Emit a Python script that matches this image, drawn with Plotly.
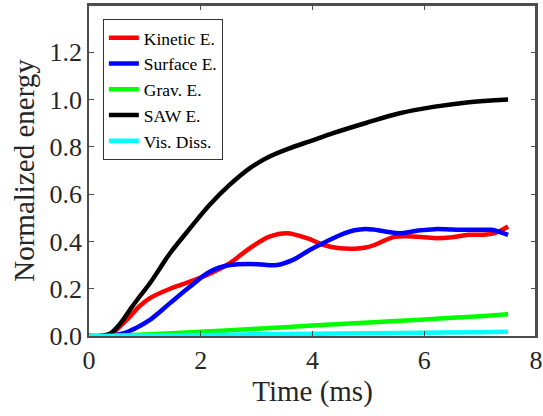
import plotly.graph_objects as go

# ---- data ----
t_saw = [0, 0.2, 0.38, 0.55, 0.73, 0.9, 1.09, 1.27, 1.45, 1.81, 2.16, 2.52, 2.88, 3.24, 3.6, 3.95, 4.37, 4.97, 5.56, 6.16, 6.76, 7.5]
v_saw = [0, 0.0, 0.011, 0.05, 0.11, 0.165, 0.223, 0.287, 0.35, 0.456, 0.555, 0.64, 0.71, 0.76, 0.795, 0.823, 0.858, 0.902, 0.942, 0.969, 0.988, 1.0]

t_kin = [0, 0.2, 0.38, 0.55, 0.73, 0.9, 1.09, 1.45, 1.81, 2.16, 2.52, 2.88, 3.24, 3.54, 3.9, 4.19, 4.45, 4.76, 4.95, 5.12, 5.3, 5.47, 5.7, 5.89, 6.19, 6.5, 6.79, 7.0, 7.26, 7.5]
v_kin = [0, 0, 0.004, 0.04, 0.082, 0.125, 0.16, 0.20, 0.23, 0.263, 0.308, 0.372, 0.421, 0.435, 0.414, 0.386, 0.372, 0.369, 0.374, 0.386, 0.405, 0.42, 0.422, 0.42, 0.414, 0.418, 0.428, 0.428, 0.435, 0.463]

t_surf = [0, 0.35, 0.61, 0.85, 1.09, 1.45, 1.81, 2.16, 2.52, 2.88, 3.1, 3.36, 3.65, 3.95, 4.25, 4.58, 4.75, 4.94, 5.1, 5.3, 5.59, 5.89, 6.19, 6.5, 6.79, 7.0, 7.2, 7.35, 7.5]
v_surf = [0, 0, 0.011, 0.035, 0.068, 0.139, 0.209, 0.272, 0.30, 0.305, 0.302, 0.30, 0.322, 0.364, 0.40, 0.435, 0.447, 0.453, 0.45, 0.442, 0.435, 0.446, 0.452, 0.45, 0.449, 0.449, 0.449, 0.44, 0.428]

t_grav = [0, 0.3, 1, 2, 3, 4, 5, 6, 7, 7.5]
v_grav = [0, 0, 0.006, 0.018, 0.031, 0.044, 0.057, 0.07, 0.084, 0.092]

t_vis = [0, 1, 2, 3, 4, 5, 6, 7, 7.5]
v_vis = [0, 0.002, 0.004, 0.007, 0.009, 0.012, 0.014, 0.016, 0.018]

x_ticks = [0, 2, 4, 6, 8]
y_ticks = [0.0, 0.2, 0.4, 0.6, 0.8, 1.0, 1.2]
y_ticklabels = ["0.0", "0.2", "0.4", "0.6", "0.8", "1.0", "1.2"]

series = [
    ("Kinetic E.", t_kin, v_kin, "#ff0000"),
    ("Surface E.", t_surf, v_surf, "#0000ff"),
    ("Grav. E.", t_grav, v_grav, "#00ff00"),
    ("SAW E.", t_saw, v_saw, "#000000"),
    ("Vis. Diss.", t_vis, v_vis, "#00ffff"),
]

FONT = "Liberation Serif, Times New Roman, serif"
AX = "#262626"
FRAME = "#4d4d4d"

fig = go.Figure()
for name, t, v, c in series:
    fig.add_trace(go.Scatter(x=t, y=v, name=name, mode="lines",
                             line=dict(color=c, width=4.5, shape="spline", smoothing=1.0)))

axis_common = dict(showgrid=False, zeroline=False, showline=True, linecolor=FRAME, linewidth=1.5,
                   mirror="allticks", ticks="inside", ticklen=5, tickcolor=FRAME, automargin=False,
                   tickfont=dict(family=FONT, size=26, color=AX))

fig.update_layout(
    width=543, height=416,
    margin=dict(l=89, r=7, t=5, b=80),
    paper_bgcolor="white", plot_bgcolor="white",
    font=dict(family=FONT, color=AX),
    xaxis=dict(range=[0, 8], tickvals=x_ticks, ticktext=[str(v) for v in x_ticks],
               title=dict(text="Time (ms)", font=dict(family=FONT, size=29, color=AX), standoff=4),
               **axis_common),
    yaxis=dict(range=[0, 1.4], tickvals=y_ticks, ticktext=y_ticklabels,
               title=dict(text="Normalized energy", font=dict(family=FONT, size=29, color=AX), standoff=6),
               **axis_common),
    legend=dict(x=0.031, y=0.958, xanchor="left", yanchor="top",
                bgcolor="white", bordercolor="#333333", borderwidth=1,
                font=dict(family=FONT, size=17.5, color="#000000"),
                itemwidth=30, tracegroupgap=0),
    showlegend=True,
    shapes=[
        dict(type="line", xref="paper", yref="paper", x0=0, x1=1, y0=1, y1=1,
             line=dict(color=FRAME, width=2), layer="above"),
        dict(type="line", xref="paper", yref="paper", x0=1, x1=1, y0=0, y1=1,
             line=dict(color=FRAME, width=2), layer="above"),
    ],
)

fig.write_html("out.html", config={"displayModeBar": False},
               post_script="document.body.style.margin='0';document.body.style.padding='0';")
